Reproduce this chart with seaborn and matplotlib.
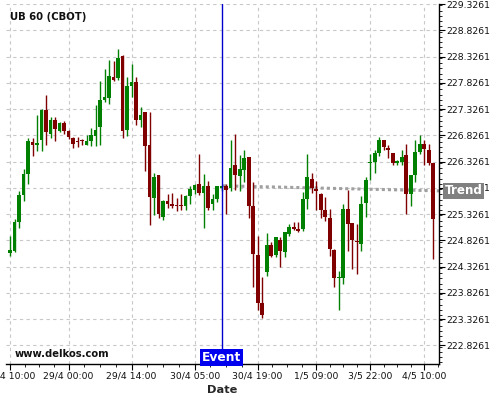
import numpy as np
import matplotlib
matplotlib.use("Agg")
import matplotlib.pyplot as plt
import seaborn as sns
from matplotlib.ticker import FixedLocator, MultipleLocator, FormatStrFormatter

# ------------------------------
# candle data (hourly)
# ------------------------------
opens = [224.581, 224.619, 225.173, 225.689, 226.084, 226.689, 226.632, 226.734, 227.313, 226.848,
         227.122, 226.899, 227.065, 226.899, 226.772, 226.721, 226.740, 226.645, 226.721, 226.817,
         226.976, 227.498, 227.536, 227.944, 227.919, 228.345, 226.925, 227.772, 227.849, 227.122,
         227.263, 226.645, 225.625, 226.062, 225.266, 225.565, 225.508, 225.489, 225.489, 225.470,
         225.661, 225.775, 225.903, 225.724, 225.852, 225.521, 225.604, 225.820, 225.865, 225.820,
         226.253, 226.043, 226.170, 226.412, 225.470, 224.552, 223.622, 224.215, 224.743, 224.552,
         224.832, 224.597, 224.947, 225.075, 225.043, 225.043, 225.616, 225.998, 225.807, 225.712,
         225.406, 225.253, 224.641, 224.106, 224.106, 225.425, 225.151, 224.807, 224.756, 225.533,
         226.298, 226.317, 226.489, 226.731, 226.571, 226.489, 226.298, 226.317, 226.444, 225.712,
         226.062, 226.508, 226.654, 226.552, 226.298]
highs = [224.906, 225.237, 225.766, 226.186, 226.772, 226.772, 227.218, 227.330, 227.600, 227.180,
         227.180, 227.084, 227.090, 226.925, 226.785, 226.785, 226.759, 226.823, 226.963, 227.403,
         227.855, 228.091, 228.250, 228.237, 228.473, 228.360, 227.944, 228.186, 227.944, 227.371,
         227.275, 227.263, 226.116, 226.070, 225.584, 225.699, 225.724, 225.635, 225.699, 225.680,
         225.852, 225.903, 226.476, 226.094, 225.947, 225.712, 225.865, 225.880, 225.903, 226.743,
         226.845, 226.444, 226.540, 226.420, 225.935, 224.915, 224.119, 224.960, 224.788, 224.890,
         224.883, 224.985, 225.138, 225.183, 225.170, 225.743, 226.476, 226.107, 225.954, 225.720,
         225.648, 225.425, 224.650, 224.246, 225.508, 225.788, 225.160, 225.138, 225.661, 226.030,
         226.476, 226.552, 226.794, 226.743, 226.635, 226.495, 226.361, 226.540, 226.654, 226.070,
         226.731, 226.826, 226.731, 226.667, 226.305]
lows = [224.524, 224.607, 225.065, 225.575, 225.893, 226.434, 226.530, 226.530, 226.638, 226.772,
        226.708, 226.880, 226.848, 226.753, 226.581, 226.606, 226.645, 226.632, 226.626, 226.613,
        226.645, 227.454, 227.422, 227.855, 227.880, 226.772, 226.817, 227.549, 227.020, 226.976,
        226.148, 225.110, 225.307, 225.247, 225.215, 225.444, 225.444, 225.374, 225.406, 225.406,
        225.520, 225.712, 225.680, 225.062, 225.406, 225.406, 225.552, 225.770, 225.329, 225.762,
        225.775, 225.762, 225.935, 225.253, 223.941, 223.495, 223.342, 224.151, 224.501, 224.514,
        224.323, 224.514, 224.915, 225.024, 224.979, 225.011, 225.425, 225.724, 225.393, 225.253,
        225.189, 224.533, 223.941, 223.495, 223.992, 224.629, 224.278, 224.183, 224.629, 225.266,
        225.979, 226.107, 226.425, 226.540, 226.399, 226.253, 226.253, 226.253, 225.317, 225.470,
        225.935, 226.476, 226.253, 226.253, 224.470]
closes = [224.632, 225.173, 225.689, 226.084, 226.721, 226.645, 226.683, 227.313, 226.880, 227.122,
          226.938, 227.065, 226.899, 226.785, 226.657, 226.689, 226.708, 226.721, 226.836, 226.931,
          227.498, 227.562, 227.963, 227.880, 228.301, 226.900, 227.772, 227.849, 227.122, 227.218,
          226.626, 225.658, 226.033, 225.329, 225.565, 225.508, 225.470, 225.470, 225.470, 225.661,
          225.807, 225.871, 225.724, 225.852, 225.431, 225.604, 225.852, 225.865, 225.788, 226.208,
          226.062, 226.189, 226.393, 225.470, 224.565, 223.622, 223.406, 224.743, 224.533, 224.883,
          224.629, 224.979, 225.075, 225.043, 224.998, 225.616, 226.030, 225.826, 225.763, 225.393,
          225.266, 224.661, 224.106, 224.132, 225.425, 225.138, 224.832, 224.788, 225.520, 225.966,
          226.317, 226.489, 226.731, 226.603, 226.552, 226.298, 226.329, 226.412, 225.712, 226.062,
          226.508, 226.654, 226.571, 226.298, 225.234]

tick_pos = [0, 13, 27, 41, 55, 68, 80, 92]
tick_labels = ["28/4 10:00", "29/4 00:00", "29/4 14:00", "30/4 05:00",
               "30/4 19:00", "1/5 09:00", "3/5 22:00", "4/5 10:00"]
y_ticks = [222.8261, 223.3261, 223.8261, 224.3261, 224.8261, 225.3261,
           225.8261, 226.3261, 226.8261, 227.3261, 227.8261, 228.3261, 228.8261, 229.3261]

event_idx = 47
trend_x = [47.3, 95.3]
trend_y = [225.863, 225.767]

# ------------------------------
# plot
# ------------------------------
sns.set_theme(style="white")
plt.rcParams['font.family'] = ['DejaVu Sans']

fig = plt.figure(figsize=(5, 4), dpi=100)
ax = fig.add_axes([0.012, 0.09, 0.866, 0.90])

o = np.array(opens)
h = np.array(highs)
l = np.array(lows)
c = np.array(closes)
x = np.arange(len(o))
up = c >= o
colors = np.where(up, "#008000", "#800000")

# trend line sits behind the candles
sns.lineplot(x=trend_x, y=trend_y, ax=ax, color="#a0a0a0", linestyle=(0, (1, 1)),
             linewidth=2.2, zorder=1)

ax.vlines(x, l, h, colors=colors, linewidth=1.0, zorder=2)
body_lo = np.minimum(o, c)
body_h = np.maximum(np.abs(c - o), 0.025)
ax.bar(x, body_h, bottom=body_lo, width=0.82, color=colors, linewidth=0, zorder=3)

# event marker
ax.axvline(event_idx, color="#0000cc", linewidth=1.0, zorder=4)
ax.text(event_idx, 222.469, "Event", ha="center", va="bottom", color="white",
        fontsize=8.8, fontweight="bold", zorder=5,
        bbox=dict(boxstyle="square,pad=0.18", fc="#0000ee", ec="none"))

# axes setup
ax.set_xlim(-0.89, 95.27)
ax.set_ylim(222.469, 229.3261)

ax.xaxis.set_major_locator(FixedLocator(tick_pos))
ax.set_xticklabels(tick_labels)
minor_x = []
for a, b in zip(tick_pos[:-1], tick_pos[1:]):
    minor_x += list(np.linspace(a, b, 5)[1:-1])
minor_x.append(95.0)
ax.xaxis.set_minor_locator(FixedLocator(minor_x))

ax.yaxis.tick_right()
ax.yaxis.set_major_locator(FixedLocator(y_ticks))
ax.yaxis.set_major_formatter(FormatStrFormatter("%.4f"))
ax.yaxis.set_minor_locator(MultipleLocator(0.1))

ax.tick_params(axis="both", which="major", labelsize=6.7, length=4, width=0.8,
               color="black", pad=1.5, labelcolor="#111111")
ax.tick_params(axis="both", which="minor", length=2, width=0.6, color="black")
ax.tick_params(axis="x", which="both", bottom=True)
ax.tick_params(axis="y", which="both", right=True, left=False)

ax.grid(True, which="major", color="#c8c8c8", linestyle=(0, (3, 3)), linewidth=0.8)
ax.set_axisbelow(True)

for side in ["top", "left"]:
    ax.spines[side].set_visible(False)
for side in ["bottom", "right"]:
    ax.spines[side].set_color("black")
    ax.spines[side].set_linewidth(1.0)

ax.set_xlabel("Date", fontsize=8.2, fontweight="bold", labelpad=3)
ax.set_ylabel("")

ax.text(0.009, 0.978, "UB 60 (CBOT)", transform=ax.transAxes, ha="left", va="top",
        fontsize=7.3, fontweight="bold", color="#111111")
ax.text(0.021, 0.02, "www.delkos.com", transform=ax.transAxes, ha="left", va="baseline",
        fontsize=7.2, fontweight="bold", color="#111111")

# trend tag on the price axis
ax.annotate("Trend", xy=(1.0, trend_y[-1]), xycoords=("axes fraction", "data"),
            xytext=(4, 0), textcoords="offset points", ha="left", va="center",
            color="white", fontsize=8.6, fontweight="bold", annotation_clip=False,
            bbox=dict(boxstyle="square,pad=0.12", fc="#808080", ec="none"), zorder=6)

fig.savefig("out.png", dpi=100)
